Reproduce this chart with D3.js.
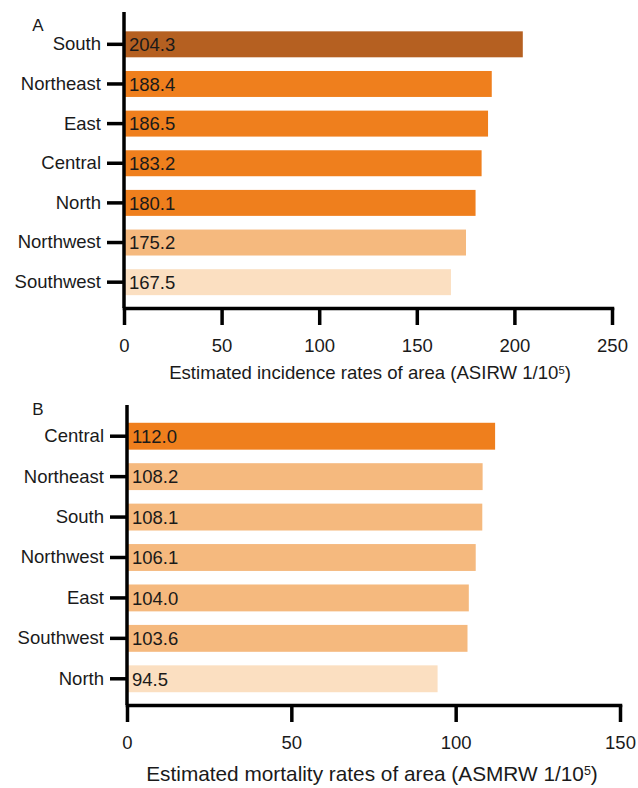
<!DOCTYPE html>
<html>
<head>
<meta charset="utf-8">
<script src="https://cdn.jsdelivr.net/npm/d3@7"></script>
<style>
  body { margin: 0; background: #fff; }
  text { font-family: "Liberation Sans", Arial, sans-serif; fill: #1a1a1a; }
</style>
</head>
<body>
<div id="chart-area"></div>
<script>
/*
*    two panel bar chart
*/
var incRegions = ["South", "Northeast", "East", "Central", "North", "Northwest", "Southwest"];
var incValues = [204.3, 188.4, 186.5, 183.2, 180.1, 175.2, 167.5];
var incTier = [3, 2, 2, 2, 2, 1, 0];
var incTicks = [0, 50, 100, 150, 200, 250];

var morRegions = ["Central", "Northeast", "South", "Northwest", "East", "Southwest", "North"];
var morValues = [112.0, 108.2, 108.1, 106.1, 104.0, 103.6, 94.5];
var morTier = [2, 1, 1, 1, 1, 1, 0];
var morTicks = [0, 50, 100, 150];

var tierColor = d3.scaleOrdinal()
    .domain([0, 1, 2, 3])
    .range(["#fbdfc1", "#f5b97e", "#ef7f1d", "#b56021"]);

var svg = d3.select("#chart-area").append("svg")
    .attr("width", 638)
    .attr("height", 788);

function panel(opt) {
    var g = svg.append("g");

    var x = d3.scaleLinear()
        .domain([0, opt.max])
        .range([opt.left, opt.right]);

    var y = d3.scaleBand()
        .domain(opt.regions)
        .range([opt.barTop, opt.barBottom])
        .paddingInner(opt.pad)
        .paddingOuter(opt.pad / 2);

    var data = opt.regions.map((r, i) => {
        return {region: r, value: opt.values[i], tier: opt.tier[i]};
    });

    g.selectAll("rect").data(data).enter().append("rect")
        .attr("x", x(0))
        .attr("y", (d) => y(d.region))
        .attr("width", (d) => x(d.value) - x(0))
        .attr("height", y.bandwidth())
        .attr("fill", (d) => tierColor(d.tier));

    g.selectAll(".val").data(data).enter().append("text")
        .attr("class", "val")
        .attr("x", x(0) + 5)
        .attr("y", (d) => y(d.region) + y.bandwidth() / 2)
        .attr("dy", "0.37em")
        .attr("font-size", "18.5px")
        .text((d) => d.value.toFixed(1));

    var leftAxis = d3.axisLeft(y)
        .tickSize(17)
        .tickPadding(6);
    var yAxisGroup = g.append("g")
        .attr("transform", "translate(" + opt.left + ",0)")
        .call(leftAxis);
    yAxisGroup.select(".domain").remove();
    yAxisGroup.selectAll("line").attr("stroke", "#000").attr("stroke-width", 3.5);
    yAxisGroup.selectAll("text")
        .attr("font-size", "18.5px")
        .attr("fill", "#1a1a1a");

    var bottomAxis = d3.axisBottom(x)
        .tickValues(opt.ticks)
        .tickSize(17)
        .tickSizeOuter(0)
        .tickPadding(14);
    var xAxisGroup = g.append("g")
        .attr("transform", "translate(0," + opt.axisY + ")")
        .call(bottomAxis);
    xAxisGroup.select(".domain")
        .attr("stroke", "#000")
        .attr("stroke-width", 3.5)
        .attr("stroke-linecap", "square");
    xAxisGroup.selectAll("line").attr("stroke", "#000").attr("stroke-width", 3.5);
    xAxisGroup.selectAll("text")
        .attr("font-size", "18.5px")
        .attr("fill", "#1a1a1a");

    // vertical axis line
    g.append("line")
        .attr("x1", opt.left).attr("x2", opt.left)
        .attr("y1", opt.axisTop).attr("y2", opt.axisY)
        .attr("stroke", "#000")
        .attr("stroke-width", 3.5);

    g.append("text")
        .attr("x", 38)
        .attr("y", opt.letterY)
        .attr("font-size", "17px")
        .attr("text-anchor", "middle")
        .text(opt.letter);

    var t = g.append("text")
        .attr("x", opt.titleX)
        .attr("y", opt.titleY)
        .attr("font-size", opt.titleSize)
        .attr("text-anchor", "middle");
    t.append("tspan").text(opt.title);
    t.append("tspan").attr("dy", "-0.45em").attr("font-size", "0.6em").text("5");
    t.append("tspan").attr("dy", "0.27em").text(")");
}

panel({
    regions: incRegions, values: incValues, tier: incTier, ticks: incTicks, max: 250,
    left: 124, right: 612, barTop: 24.5, barBottom: 302, pad: 0.345,
    axisTop: 12, axisY: 308, letterY: 31, titleX: 370, titleY: 379, titleSize: "18.6px", letter: "A",
    title: "Estimated incidence rates of area (ASIRW 1/10"
});

panel({
    regions: morRegions, values: morValues, tier: morTier, ticks: morTicks, max: 150,
    left: 127, right: 620, barTop: 416, barBottom: 699, pad: 0.335,
    axisTop: 405, axisY: 705, letterY: 415, titleX: 372, titleY: 781, titleSize: "20.8px", letter: "B",
    title: "Estimated mortality rates of area (ASMRW 1/10"
});
</script>
</body>
</html>
